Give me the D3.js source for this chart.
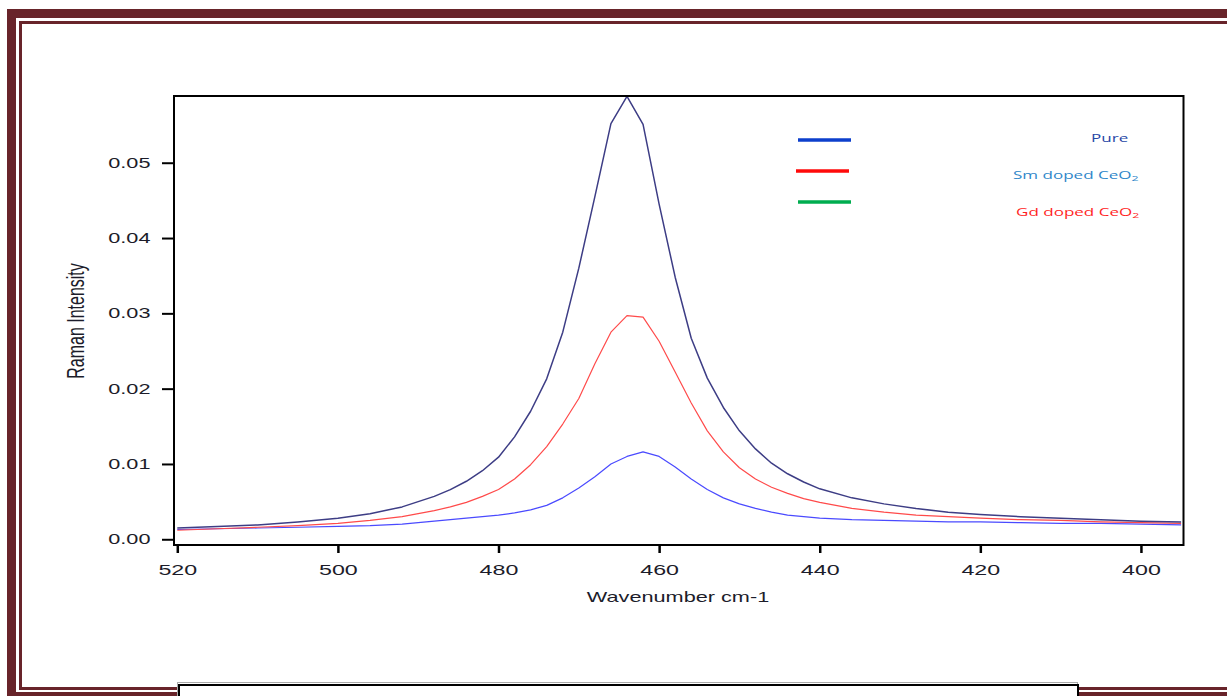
<!DOCTYPE html>
<html>
<head>
<meta charset="utf-8">
<script src="https://cdn.jsdelivr.net/npm/d3@7"></script>
<style>
  body { margin: 0; background: #fff; }
  svg { display: block; }
</style>
</head>
<body>
<svg id="chart" width="1227" height="696"></svg>
<script>
// wavenumber (cm-1)
const wavenumber = [520, 515, 510, 505, 500, 496, 492, 490, 488, 486, 484, 482, 480, 478, 476, 474, 472, 470,
  468, 466, 464, 462, 460, 458, 456, 454, 452, 450, 448, 446, 444, 442, 440, 436, 432, 428, 424, 420,
  415, 410, 405, 400, 395];

// navy (tallest) curve
const intensityNavy = [0.0015, 0.0017, 0.0019, 0.0023, 0.0028, 0.0034, 0.0043, 0.0050, 0.0057, 0.0066, 0.0077,
  0.0091, 0.0109, 0.0136, 0.0170, 0.0213, 0.0275, 0.0360, 0.0455, 0.0552, 0.0588, 0.0551, 0.0445, 0.0348,
  0.0267, 0.0214, 0.0175, 0.0144, 0.0120, 0.0101, 0.0087, 0.0076, 0.0067, 0.0055, 0.0047, 0.0041, 0.0036,
  0.0033, 0.0030, 0.0028, 0.0026, 0.0024, 0.0023];

// red curve
const intensityRed = [0.0012, 0.0014, 0.0016, 0.0018, 0.0021, 0.0025, 0.0030, 0.0034, 0.0038, 0.0043, 0.0049,
  0.0057, 0.0066, 0.0080, 0.0099, 0.0123, 0.0153, 0.0187, 0.0233, 0.0275, 0.0297, 0.0295, 0.0263, 0.0222,
  0.0181, 0.0144, 0.0116, 0.0095, 0.0080, 0.0069, 0.0061, 0.0054, 0.0049, 0.0041, 0.0036, 0.0032, 0.0030,
  0.0028, 0.0026, 0.0025, 0.0023, 0.0022, 0.0021];

// blue curve
const intensityBlue = [0.0013, 0.0014, 0.0015, 0.0016, 0.0017, 0.0018, 0.0020, 0.0022, 0.0024, 0.0026, 0.0028,
  0.0030, 0.0032, 0.0035, 0.0039, 0.0045, 0.0055, 0.0068, 0.0083, 0.0100, 0.0110, 0.0116, 0.0110, 0.0096,
  0.0080, 0.0066, 0.0055, 0.0047, 0.0041, 0.0036, 0.0032, 0.0030, 0.0028, 0.0026, 0.0025, 0.0024, 0.0023,
  0.0023, 0.0022, 0.0021, 0.0021, 0.0020, 0.0019];

const xTicks = [520, 500, 480, 460, 440, 420, 400];
const yTicks = [0, 0.01, 0.02, 0.03, 0.04, 0.05];

const legendLabels = ["Pure", "Sm doped CeO", "Gd doped CeO"];
const legendSub = ["", "2", "2"];

// ---- layout / styles
const plot = {left: 174, right: 1183.5, top: 96, bottom: 545};
const stretch = 1.55;   // the picture is stretched sideways, so the text is too
const frameColor = "#68242a";
const svg = d3.select("#chart");

// page frame
svg.append("rect")
  .attr("x", 11.5).attr("y", 13.5).attr("width", 1400).attr("height", 683)
  .attr("fill", "none").attr("stroke", frameColor).attr("stroke-width", 9);
svg.append("rect")
  .attr("x", 20.5).attr("y", 22.5).attr("width", 1400).attr("height", 666)
  .attr("fill", "none").attr("stroke", frameColor).attr("stroke-width", 3);

// box sticking up from the bottom edge
svg.append("rect")
  .attr("x", 177.5).attr("y", 682.5).attr("width", 900).attr("height", 40)
  .attr("fill", "#fff").attr("stroke", "#aaa").attr("stroke-width", 1);
svg.append("rect")
  .attr("x", 179).attr("y", 685).attr("width", 899).attr("height", 40)
  .attr("fill", "#fff").attr("stroke", "#000").attr("stroke-width", 2);

const x = d3.scaleLinear()
  .domain([520.41, 394.7])
  .range([plot.left, plot.right]);
const y = d3.scaleLinear()
  .domain([-0.00076, 0.05886])
  .range([plot.bottom, plot.top]);

const g = svg.append("g");

// clip for curves
svg.append("defs").append("clipPath").attr("id", "clip")
  .append("rect")
  .attr("x", plot.left).attr("y", plot.top - 1)
  .attr("width", plot.right - plot.left).attr("height", plot.bottom - plot.top + 1);

const line = d3.line()
  .x((d, i) => x(wavenumber[i]))
  .y(d => y(d));

const curves = [
  {values: intensityBlue, color: "#4a4aff", width: 1.2},
  {values: intensityRed, color: "#ff4a4a", width: 1.2},
  {values: intensityNavy, color: "#3d3d85", width: 1.5}
];

g.append("g").attr("clip-path", "url(#clip)")
  .selectAll("path")
  .data(curves)
  .enter()
    .append("path")
    .attr("d", d => line(d.values))
    .attr("fill", "none")
    .attr("stroke", d => d.color)
    .attr("stroke-width", d => d.width)
    .attr("stroke-linejoin", "round");

// x axis
const xAxis = g.append("g")
  .attr("transform", `translate(0,${plot.bottom})`)
  .call(d3.axisBottom(x).tickValues(xTicks).tickSize(8).tickPadding(11).tickFormat(d3.format("d")));
xAxis.select(".domain").remove();
xAxis.selectAll("line").attr("stroke", "#000").attr("stroke-width", 2.5);
xAxis.selectAll("text")
  .attr("transform", `scale(${stretch},1)`)
  .style("font-family", "'Liberation Sans', Arial, sans-serif")
  .style("font-size", "15px")
  .attr("fill", "#1c1c2a");

// y axis
const yAxis = g.append("g")
  .attr("transform", `translate(${plot.left},0)`)
  .call(d3.axisLeft(y).tickValues(yTicks).tickSize(12).tickFormat(d3.format(".2f")));
yAxis.select(".domain").remove();
yAxis.selectAll("line").attr("stroke", "#000").attr("stroke-width", 2);
yAxis.selectAll("text")
  .attr("x", -23.5 / stretch)
  .attr("transform", `scale(${stretch},1)`)
  .style("font-family", "'Liberation Sans', Arial, sans-serif")
  .style("font-size", "14px")
  .attr("fill", "#1c1c2a");

// plot box
g.append("rect")
  .attr("x", plot.left).attr("y", plot.top)
  .attr("width", plot.right - plot.left).attr("height", plot.bottom - plot.top)
  .attr("fill", "none").attr("stroke", "#000").attr("stroke-width", 2);

// axis titles
g.append("text")
  .attr("transform", `translate(678,602) scale(${stretch},1)`)
  .attr("text-anchor", "middle")
  .style("font-family", "'Liberation Sans', Arial, sans-serif")
  .style("font-size", "14px")
  .attr("fill", "#1c1c2a")
  .text("Wavenumber cm-1");

g.append("text")
  .attr("transform", `translate(84,321) scale(${stretch},1) rotate(-90)`)
  .attr("text-anchor", "middle")
  .style("font-family", "'Liberation Sans', Arial, sans-serif")
  .style("font-size", "16px")
  .attr("fill", "#1c1c2a")
  .text("Raman Intensity");

// legend (swatches and labels sit apart, as in the picture)
const legendLines = [
  {x1: 798, x2: 851, y: 140, color: "#0d3fcc"},
  {x1: 796, x2: 849, y: 171, color: "#ff0a0a"},
  {x1: 798, x2: 851, y: 202, color: "#00ad4f"}
];
const legendText = [
  {x: 1091, y: 142, color: "#2747a6"},
  {x: 1013, y: 179, color: "#2e86c9"},
  {x: 1016, y: 216, color: "#ff1f1f"}
];

g.selectAll("line.legend")
  .data(legendLines)
  .enter()
    .append("line")
    .attr("class", "legend")
    .attr("x1", d => d.x1).attr("x2", d => d.x2)
    .attr("y1", d => d.y).attr("y2", d => d.y)
    .attr("stroke", d => d.color)
    .attr("stroke-width", 3.5);

const lt = g.selectAll("text.legend")
  .data(legendLabels)
  .enter()
    .append("text")
    .attr("class", "legend")
    .attr("transform", (d, i) => `translate(${legendText[i].x},${legendText[i].y}) scale(${stretch},1)`)
    .style("font-family", "'Open Sans', sans-serif")
    .style("font-size", "11px")
    .attr("fill", (d, i) => legendText[i].color);
lt.append("tspan").text(d => d);
lt.append("tspan")
  .attr("dy", 2)
  .style("font-size", "8px")
  .text((d, i) => legendSub[i]);
</script>
</body>
</html>
